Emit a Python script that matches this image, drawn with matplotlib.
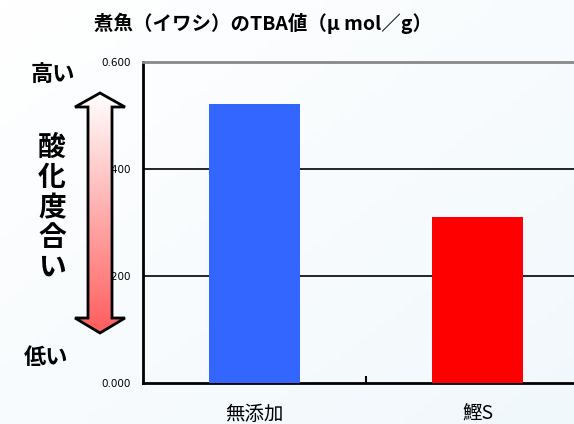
import matplotlib
matplotlib.use("Agg")
import matplotlib.pyplot as plt
import numpy as np
from matplotlib.patches import Polygon
from matplotlib.colors import LinearSegmentedColormap

plt.rcParams['font.family'] = ['Noto Sans CJK JP', 'DejaVu Sans']

# data
categories = ["無添加", "鰹S"]
tba_values = [0.521, 0.310]
bar_colors = ["#3366ff", "#ff0000"]
y_ticks = [0.0, 0.2, 0.4, 0.6]
title = "煮魚（イワシ）のTBA値（μ mol／g）"

W, H = 574, 424
fig = plt.figure(figsize=(W / 100, H / 100), dpi=100)

# faint background tint
bg = fig.add_axes([0, 0, 1, 1], zorder=-5)
gx, gy = np.meshgrid(np.linspace(0, 1, 64), np.linspace(0, 1, 64))
bg.imshow((gx + gy) / 2, cmap=LinearSegmentedColormap.from_list("bg", ["#ffffff", "#f1f8fc"]),
          extent=[0, 1, 0, 1], origin="upper", aspect="auto")
bg.axis("off")

ax = fig.add_axes([143 / W, (H - 383) / H, (589 - 143) / W, (383 - 62) / H])
ax.set_facecolor("none")
x = np.arange(len(categories))
ax.bar(x, tba_values, width=0.41, color=bar_colors, zorder=3)
ax.set_xlim(-0.5, 1.5)
ax.set_ylim(0, 0.6)
ax.set_yticks(y_ticks)
ax.set_yticklabels(["%.3f" % v for v in y_ticks], fontsize=7.5, family="DejaVu Sans")
ax.tick_params(axis="y", length=0, pad=9)
ax.set_xticks(x)
ax.set_xticklabels(categories, fontsize=14)
ax.tick_params(axis="x", length=0, pad=15)
ax.set_xticks([0.5], minor=True)
ax.tick_params(axis="x", which="minor", direction="in", length=5, width=1.5, color="black")
for yv in y_ticks[1:3]:
    ax.axhline(yv, color="black", lw=1.2, zorder=1)
ax.spines["left"].set_linewidth(2)
ax.spines["bottom"].set_linewidth(2)
ax.spines["top"].set_color("#888888")
ax.spines["top"].set_linewidth(2)
ax.spines["right"].set_visible(False)

fig.text(263 / W, 1 - 23 / H, title, ha="center", va="center", fontsize=14, fontweight="bold")

# overlay in pixel coordinates for the arrow and side labels
ov = fig.add_axes([0, 0, 1, 1], zorder=5)
ov.set_xlim(0, W)
ov.set_ylim(H, 0)
ov.axis("off")
ov.patch.set_alpha(0)

pts = [(100, 93), (125, 107), (112, 107), (112, 318), (125, 318), (100, 333),
       (75, 318), (88, 318), (88, 107), (75, 107)]
arrow = Polygon(pts, closed=True, facecolor="none", edgecolor="black", lw=2, zorder=3)
ov.add_patch(arrow)
grad = np.linspace(0, 1, 256).reshape(-1, 1)
cmap = LinearSegmentedColormap.from_list("ar", ["#ffffff", "#ff5c5c"])
im = ov.imshow(grad, cmap=cmap, extent=[75, 125, 333, 93], aspect="auto", zorder=2)
im.set_clip_path(arrow)
ov.set_xlim(0, W)
ov.set_ylim(H, 0)

ov.text(53, 74, "高い", ha="center", va="center", fontsize=16, fontweight="bold")
ov.text(46, 358, "低い", ha="center", va="center", fontsize=16, fontweight="bold")
for i, ch in enumerate("酸化度合い"):
    ov.text(52, 148 + i * 30, ch, ha="center", va="center", fontsize=20, fontweight="bold")

fig.savefig("out.png", dpi=100)
